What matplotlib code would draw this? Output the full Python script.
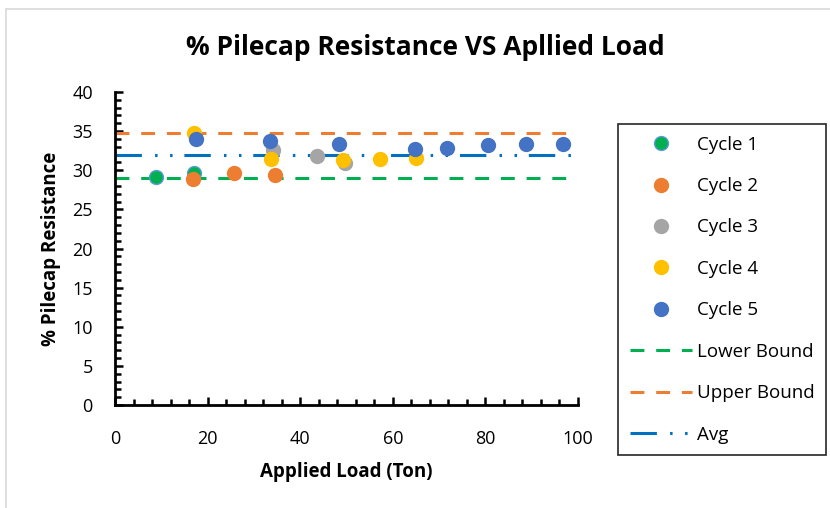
import matplotlib
matplotlib.use("Agg")
import matplotlib.pyplot as plt
from matplotlib.ticker import MultipleLocator
from matplotlib.patches import Rectangle

plt.rcParams['font.family'] = ['Open Sans', 'DejaVu Sans']
plt.rcParams['lines.scale_dashes'] = False

# ---- data ----
cycle1_x = [8.9, 17.1]
cycle1_y = [29.1, 29.7]
cycle2_x = [16.9, 25.7, 34.5]
cycle2_y = [28.9, 29.7, 29.4]
cycle3_x = [34.1, 43.6, 49.7]
cycle3_y = [32.6, 31.8, 30.9]
cycle4_x = [17.1, 33.8, 49.2, 57.2, 65.0]
cycle4_y = [34.8, 31.5, 31.3, 31.5, 31.6]
cycle5_x = [17.4, 33.4, 48.3, 64.9, 71.8, 80.6, 88.7, 96.7]
cycle5_y = [34.0, 33.8, 33.4, 32.7, 32.8, 33.2, 33.4, 33.4]
bound_x = [0, 100]
lower_bound = 29.0
upper_bound = 34.8
avg_value = 31.9

W, H = 830, 508
fig = plt.figure(figsize=(W / 100, H / 100), dpi=100)
fig.patch.set_facecolor('white')

# chart area border (only top/left visible)
fig.add_artist(Rectangle((6 / W, -0.1), 2.0, 1.1 - 9 / H, transform=fig.transFigure,
                         fill=False, edgecolor='#D9D9D9', linewidth=1.2))

ax = fig.add_axes([115 / W, 1 - 405 / H, (578 - 115) / W, (405 - 92) / H])

ax.plot(bound_x, [lower_bound] * 2, color='#00B050', lw=2.2, dashes=(10, 8.5),
        label='Lower Bound', zorder=2)
ax.plot(bound_x, [upper_bound] * 2, color='#ED7D31', lw=2.2, dashes=(10, 8.5),
        label='Upper Bound', zorder=2)
ax.plot(bound_x, [avg_value] * 2, color='#0070C0', lw=2.2, dashes=(19, 9.5, 1.8, 9, 1.8, 8.5),
        label='Avg', zorder=2)

ms = 10
ax.plot(cycle1_x, cycle1_y, 'o', ms=ms, color='#00B050', mec='#5B9BD5', mew=1.0,
        label='Cycle 1', zorder=3)
ax.plot(cycle2_x, cycle2_y, 'o', ms=ms, color='#ED7D31', mec='#ED7D31', label='Cycle 2', zorder=3)
ax.plot(cycle3_x, cycle3_y, 'o', ms=ms, color='#A5A5A5', mec='#A5A5A5', label='Cycle 3', zorder=3)
ax.plot(cycle4_x, cycle4_y, 'o', ms=ms, color='#FFC000', mec='#FFC000', label='Cycle 4', zorder=3)
ax.plot(cycle5_x, cycle5_y, 'o', ms=ms, color='#4472C4', mec='#4472C4', label='Cycle 5', zorder=3)

ax.set_xlim(0, 100)
ax.set_ylim(0, 40)
ax.xaxis.set_major_locator(MultipleLocator(20))
ax.xaxis.set_minor_locator(MultipleLocator(4))
ax.yaxis.set_major_locator(MultipleLocator(5))
ax.yaxis.set_minor_locator(MultipleLocator(1))
for sp in ['top', 'right']:
    ax.spines[sp].set_visible(False)
for sp in ['left', 'bottom']:
    ax.spines[sp].set_linewidth(2.0)
    ax.spines[sp].set_color('black')
ax.tick_params(which='both', direction='in', width=1.8, color='black', labelsize=13,
               labelcolor='#000000')
ax.tick_params(which='major', length=6)
ax.tick_params(which='minor', length=4)
ax.tick_params(axis='y', which='major', pad=16)
ax.tick_params(axis='x', which='major', pad=18)

fig.text(0.512, 1 - 47 / H, '% Pilecap Resistance VS Apllied Load', ha='center', va='center',
         fontsize=19, fontweight='bold')
ax.set_xlabel('Applied Load (Ton)', fontsize=13.5, fontweight='bold', labelpad=10)
ax.set_ylabel('% Pilecap Resistance', fontsize=13.5, fontweight='bold', labelpad=8)

handles, labels = ax.get_legend_handles_labels()
order = ['Cycle 1', 'Cycle 2', 'Cycle 3', 'Cycle 4', 'Cycle 5', 'Lower Bound', 'Upper Bound', 'Avg']
hmap = dict(zip(labels, handles))
leg = fig.legend([hmap[k] for k in order], order, loc='upper left',
                 bbox_to_anchor=(618 / W, 1 - 124 / H), bbox_transform=fig.transFigure,
                 fontsize=13.5, frameon=True, fancybox=False, framealpha=1,
                 edgecolor='#262626', handlelength=3.3, handletextpad=0.27,
                 labelspacing=1.25, borderpad=0.62, borderaxespad=0, numpoints=1)
leg.get_frame().set_linewidth(1.2)

fig.savefig('out.png', dpi=100)
